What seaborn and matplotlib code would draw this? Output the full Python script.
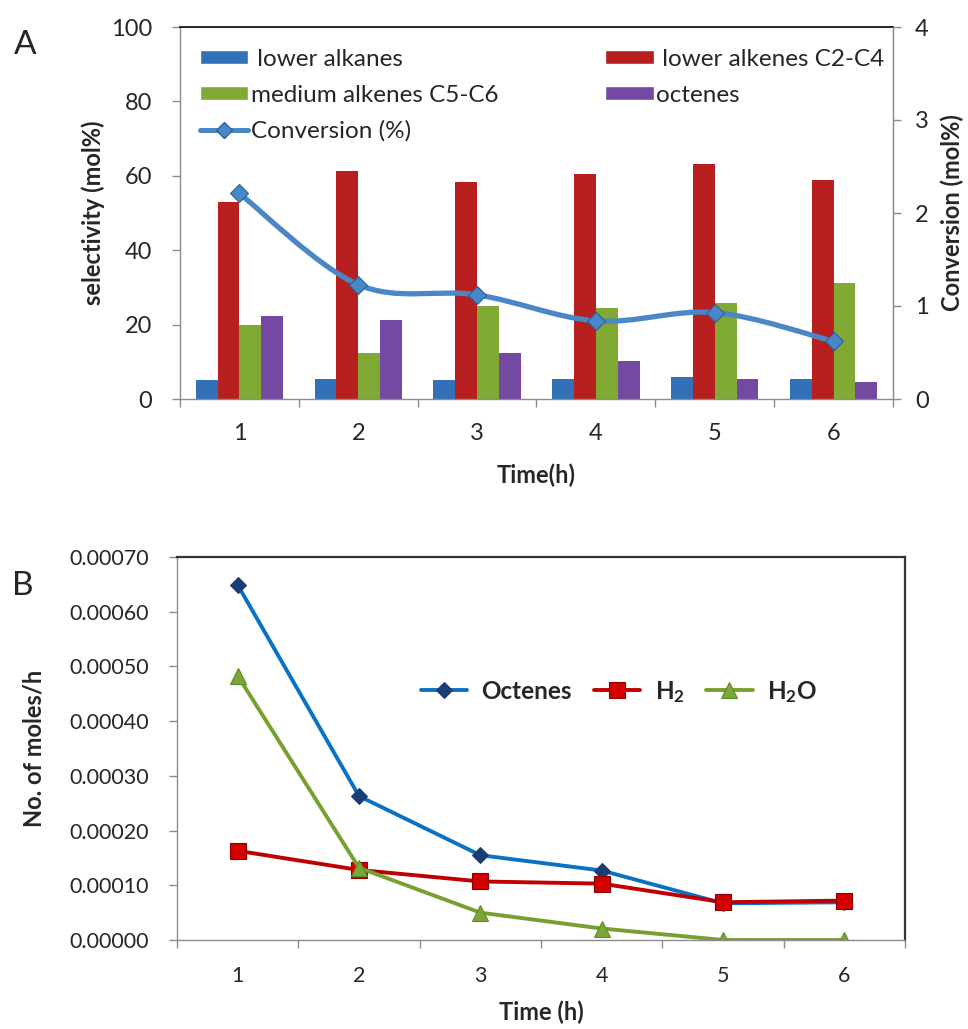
import numpy as np
import pandas as pd
import matplotlib
matplotlib.use("Agg")
import matplotlib.pyplot as plt
import seaborn as sns
from matplotlib.patches import Patch, PathPatch
from matplotlib.lines import Line2D
from matplotlib.path import Path
from matplotlib.ticker import FixedLocator, FormatStrFormatter

# ---------------- data ----------------
time_h = [1, 2, 3, 4, 5, 6]
lower_alkanes = [5.0, 5.4, 5.0, 5.4, 5.8, 5.4]
lower_alkenes_c2_c4 = [53.0, 61.3, 58.2, 60.4, 63.2, 59.0]
medium_alkenes_c5_c6 = [20.0, 12.5, 25.0, 24.5, 25.9, 31.3]
octenes_sel = [22.3, 21.2, 12.5, 10.1, 5.5, 4.5]
conversion = [2.21, 1.23, 1.12, 0.84, 0.93, 0.62]

octenes_mol = [0.000649, 0.000263, 0.000155, 0.000127, 0.000067, 0.000069]
h2_mol = [0.000163, 0.000128, 0.000107, 0.000103, 0.000069, 0.000072]
h2o_mol = [0.000483, 0.000132, 0.000050, 0.000021, 0.0, 0.0]

bar_labels = [" lower alkanes", " lower alkenes C2-C4", "medium alkenes C5-C6", "octenes"]
conv_label = "Conversion (%)"
bottom_labels = ["Octenes", r"$\mathbf{H_2}$", r"$\mathbf{H_2O}$"]

# ---------------- style ----------------
sns.set_style("white")
plt.rcParams["font.family"] = ["Lato", "DejaVu Sans"]
plt.rcParams["mathtext.fontset"] = "custom"
plt.rcParams["mathtext.rm"] = "Lato"
plt.rcParams["mathtext.bf"] = "Lato:bold"
plt.rcParams["mathtext.it"] = "Lato:italic"
TICK_FS_A = 17
TICK_FS_B = 15.5
LAB_FS = 17
GRAY = "#8c8c8c"

bar_colors = ["#3270B8", "#B8201F", "#80AA33", "#7449A1"]
conv_color = "#4A87C6"

fig = plt.figure(figsize=(9.68, 10.29), dpi=100)
ax = fig.add_axes([180 / 968, 1 - 399 / 1029, (893 - 180) / 968, (399 - 27) / 1029])

df = pd.DataFrame({
    "time": [str(t) for t in time_h] * 4,
    "value": lower_alkanes + lower_alkenes_c2_c4 + medium_alkenes_c5_c6 + octenes_sel,
    "product": sum([[lab] * len(time_h) for lab in bar_labels], []),
})
sns.barplot(data=df, x="time", y="value", hue="product", hue_order=bar_labels,
            palette=bar_colors, width=0.735, gap=0, saturation=1, legend=False,
            ax=ax, errorbar=None, linewidth=0)

ax.set_xlim(-0.5, 5.5)
ax.set_ylim(0, 100)
ax.set_yticks([0, 20, 40, 60, 80, 100])
ax.xaxis.set_minor_locator(FixedLocator(np.arange(-0.5, 6.0, 1.0)))
ax.tick_params(axis="x", which="major", length=0, pad=17, labelsize=TICK_FS_A)
ax.tick_params(axis="x", which="minor", length=6, width=1, color=GRAY, direction="out", bottom=True)
ax.tick_params(axis="y", length=6, width=1, color=GRAY, direction="out", left=True, pad=14,
               labelsize=TICK_FS_A)
for s in ["left", "bottom", "right"]:
    ax.spines[s].set_color(GRAY)
    ax.spines[s].set_linewidth(1)
ax.spines["top"].set_color("black")
ax.spines["top"].set_linewidth(1.2)
ax.set_xlabel("Time(h)", fontsize=LAB_FS, fontweight="bold", labelpad=14)
ax.set_ylabel("selectivity (mol%)", fontsize=LAB_FS, fontweight="bold")
ax.yaxis.set_label_coords(-0.105, 0.5)

ax2 = ax.twinx()
ax2.set_ylim(0, 4)
ax2.set_yticks([0, 1, 2, 3, 4])
ax2.tick_params(axis="y", length=6, width=1, color=GRAY, direction="out", right=True, pad=10,
                labelsize=TICK_FS_A)
ax2.spines["right"].set_color(GRAY)
ax2.spines["top"].set_visible(False)
ax2.spines["left"].set_visible(False)
ax2.spines["bottom"].set_visible(False)
ax2.set_ylabel("Conversion (mol%)", fontsize=LAB_FS, fontweight="bold", rotation=90)
ax2.yaxis.set_label_coords(1.066, 0.5)

# smooth (Bezier) rendering of the conversion series through its points
xs = np.arange(len(conversion), dtype=float)
ys = np.array(conversion, dtype=float)
verts = [(xs[0], ys[0])]
codes = [Path.MOVETO]
for i in range(len(xs) - 1):
    p0 = np.array([xs[max(i - 1, 0)], ys[max(i - 1, 0)]])
    p1 = np.array([xs[i], ys[i]])
    p2 = np.array([xs[i + 1], ys[i + 1]])
    p3 = np.array([xs[min(i + 2, len(xs) - 1)], ys[min(i + 2, len(xs) - 1)]])
    c1 = p1 + (p2 - p0) / 6.0
    c2 = p2 - (p3 - p1) / 6.0
    verts += [tuple(c1), tuple(c2), tuple(p2)]
    codes += [Path.CURVE4] * 3
ax2.add_patch(PathPatch(Path(verts, codes), facecolor="none", edgecolor=conv_color,
                        lw=3.8, capstyle="round", joinstyle="round", zorder=3))
sns.lineplot(x=xs, y=ys, ax=ax2, linestyle="none", marker="D", markersize=9.5,
             markerfacecolor=conv_color, markeredgecolor="#2F5F9A", markeredgewidth=0.8,
             zorder=4, legend=False)

handles = [Patch(facecolor=bar_colors[0]), Patch(facecolor=bar_colors[2]),
           Line2D([], [], color=conv_color, lw=3.6, marker="D", markersize=8,
                  markerfacecolor=conv_color, markeredgecolor="#2F5F9A"),
           Patch(facecolor=bar_colors[1]), Patch(facecolor=bar_colors[3])]
labels = [bar_labels[0], bar_labels[2], conv_label, bar_labels[1], bar_labels[3]]
ax2.legend(handles, labels, ncol=2, loc="upper left", bbox_to_anchor=(0.014, 0.967),
           frameon=False, fontsize=17.5, handlelength=2.0, handleheight=0.5,
           handletextpad=0.1, columnspacing=4.4, labelspacing=0.6, borderaxespad=0)

# ---------------- panel B ----------------
axb = fig.add_axes([177 / 968, 1 - 940 / 1029, (905 - 177) / 968, (940 - 557) / 1029])
sns.lineplot(x=time_h, y=octenes_mol, ax=axb, color="#0A72C4", lw=2.8, marker="D",
             markersize=8, markerfacecolor="#1A3D75", markeredgecolor="#1A3D75",
             label=bottom_labels[0])
sns.lineplot(x=time_h, y=h2_mol, ax=axb, color="#C00000", lw=2.8, marker="s",
             markersize=12, markerfacecolor="#D50000", markeredgecolor="#8B0000",
             markeredgewidth=0.8, label=bottom_labels[1])
sns.lineplot(x=time_h, y=h2o_mol, ax=axb, color="#77A030", lw=2.8, marker="^",
             markersize=12, markerfacecolor="#7AA63A", markeredgecolor="#5F8A25",
             markeredgewidth=0.8, label=bottom_labels[2])
axb.set_xlim(0.5, 6.5)
axb.set_ylim(0, 0.0007)
axb.set_xticks(time_h)
axb.set_yticks(np.arange(0, 0.00071, 0.0001))
axb.yaxis.set_major_formatter(FormatStrFormatter("%.5f"))
axb.xaxis.set_minor_locator(FixedLocator(np.arange(0.5, 7.0, 1.0)))
axb.tick_params(axis="x", which="major", length=0, pad=19, labelsize=TICK_FS_B)
axb.tick_params(axis="x", which="minor", length=6, width=1, color=GRAY, direction="out", bottom=True)
axb.tick_params(axis="y", length=6, width=1, color=GRAY, direction="out", left=True, pad=14,
                labelsize=TICK_FS_B)
for s in ["left", "bottom"]:
    axb.spines[s].set_color(GRAY)
    axb.spines[s].set_linewidth(1)
for s in ["top", "right"]:
    axb.spines[s].set_color("#333333")
    axb.spines[s].set_linewidth(1.6)
axb.set_xlabel("Time (h)", fontsize=LAB_FS, fontweight="bold", labelpad=10)
axb.set_ylabel("No. of moles/h", fontsize=LAB_FS, fontweight="bold")
axb.yaxis.set_label_coords(-0.18, 0.5)
leg = axb.legend(ncol=3, loc="center", bbox_to_anchor=(0.607, 0.648), frameon=False,
                 prop={"size": 17.5, "weight": "bold"}, handlelength=1.9,
                 handletextpad=0.6, columnspacing=0.9)

fig.text(14 / 968, 1 - 45 / 1029, "A", fontsize=24, va="center", ha="left")
fig.text(12 / 968, 1 - 586 / 1029, "B", fontsize=24, va="center", ha="left")

fig.savefig("out.png", dpi=100, facecolor="white")
